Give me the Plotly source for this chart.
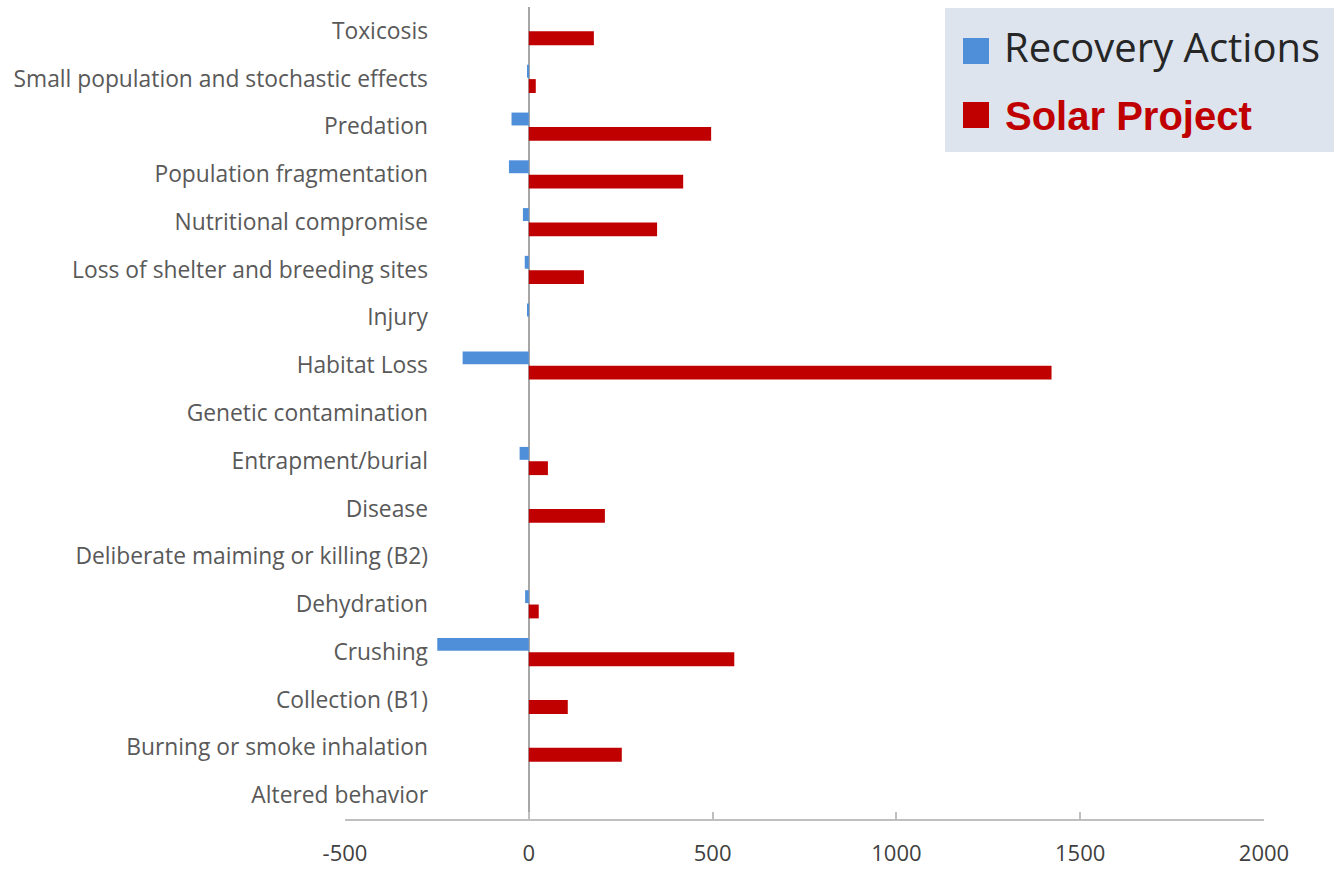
import plotly.graph_objects as go

categories = [
    "Toxicosis",
    "Small population and stochastic effects",
    "Predation",
    "Population fragmentation",
    "Nutritional compromise",
    "Loss of shelter and breeding sites",
    "Injury",
    "Habitat Loss",
    "Genetic contamination",
    "Entrapment/burial",
    "Disease",
    "Deliberate maiming or killing (B2)",
    "Dehydration",
    "Crushing",
    "Collection (B1)",
    "Burning or smoke inhalation",
    "Altered behavior",
]
recovery_actions = [0, -4, -47, -54, -16, -11, -4, -180, 0, -25, 0, 0, -10, -249, 0, 0, 0]
solar_project = [177, 19, 496, 420, 349, 150, 0, 1422, 0, 52, 207, 0, 27, 559, 106, 253, 0]
x_ticks = [-500, 0, 500, 1000, 1500, 2000]

W, H = 1334, 869
L, R, T, B = 345, 1264, 7, 819
PW, PH = R - L, B - T


def px(x):
    return (x - L) / PW


def py(y):
    return (B - y) / PH


BLUE = "#4f8fda"
RED = "#c00000"
SANS = "Open Sans, Noto Sans, sans-serif"

fig = go.Figure()
fig.add_trace(go.Bar(
    y=categories, x=recovery_actions, orientation="h", name="Recovery Actions",
    marker=dict(color=BLUE, line=dict(width=0)), width=0.27, offset=-0.29,
    showlegend=False,
))
fig.add_trace(go.Bar(
    y=categories, x=solar_project, orientation="h", name="Solar Project",
    marker=dict(color=RED, line=dict(width=0)), width=0.29, offset=0.01,
    showlegend=False,
))

fig.update_layout(
    width=W, height=H,
    margin=dict(l=L, r=W - R, t=T, b=H - B, autoexpand=False),
    paper_bgcolor="white", plot_bgcolor="white",
    barmode="overlay",
    font=dict(family=SANS, color="#595959"),
    xaxis=dict(
        range=[-500, 2000], tickvals=x_ticks, ticktext=[str(v) for v in x_ticks],
        showgrid=False, zeroline=True, zerolinecolor="#a6a6a6", zerolinewidth=1.5,
        showline=True, linecolor="#bfbfbf", linewidth=1.5,
        ticks="inside", ticklen=7, tickcolor="#bfbfbf", tickwidth=1.5,
        tickfont=dict(family=SANS, size=22, color="#404040"), ticklabelstandoff=14,
    ),
    yaxis=dict(
        type="category", autorange="reversed", anchor="free", position=px(428),
        showline=False, showgrid=False, zeroline=False, ticks="",
        tickfont=dict(family=SANS, size=22.8, color="#595959"),
    ),
    shapes=[
        dict(type="rect", xref="paper", yref="paper", x0=px(945), x1=px(1334), y0=py(152), y1=py(8),
             fillcolor="#dde4ee", line=dict(width=0), layer="above"),
        dict(type="rect", xref="paper", yref="paper", x0=px(963), x1=px(989), y0=py(64), y1=py(38),
             fillcolor=BLUE, line=dict(width=0), layer="above"),
        dict(type="rect", xref="paper", yref="paper", x0=px(963), x1=px(989), y0=py(128), y1=py(102),
             fillcolor=RED, line=dict(width=0), layer="above"),
    ],
    annotations=[
        dict(xref="paper", yref="paper", x=px(1002), y=py(46), xanchor="left", yanchor="middle",
             text="Recovery Actions", showarrow=False,
             font=dict(family=SANS, size=40, color="#262626")),
        dict(xref="paper", yref="paper", x=px(1003), y=py(116), xanchor="left", yanchor="middle",
             text="<b>Solar Project</b>", showarrow=False,
             font=dict(family="Liberation Sans, Arial, sans-serif", size=40, color=RED)),
    ],
)

fig.write_html("out.html")
